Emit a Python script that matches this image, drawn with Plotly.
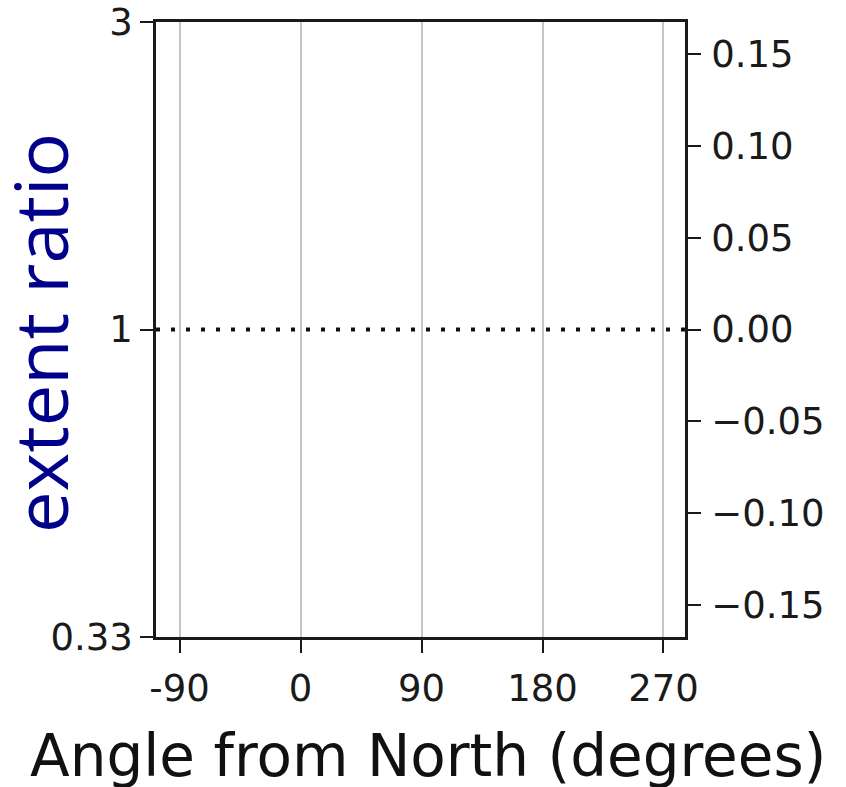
import math
import plotly.graph_objects as go

# Axis ticks and ranges
angle_ticks = [-90, 0, 90, 180, 270]
angle_ticklabels = ["-90", "0", "90", "180", "270"]
angle_range = [-107.5, 286.0]

ratio_ticks = [1 / 3, 1, 3]
ratio_ticklabels = ["0.33", "1", "3"]
ratio_range = [1 / 3, 3]

log_ticks = [-0.15, -0.10, -0.05, 0.0, 0.05, 0.10, 0.15]
log_ticklabels = ["\u22120.15", "\u22120.10", "\u22120.05", "0.00", "0.05", "0.10", "0.15"]
log_range = [-0.1676, 0.1676]

reference_ratio = 1.0

W, H = 846, 787
ML, MR, MT, MB = 156, 161, 22, 150
plot_w = W - ML - MR
plot_h = H - MT - MB

tick_font = dict(family="DejaVu Sans", size=37, color="#1a1a1a")
axis_color = "#1a1a1a"

fig = go.Figure()

# empty traces so both y axes are drawn
fig.add_trace(go.Scatter(x=[None], y=[None], yaxis="y", showlegend=False, hoverinfo="skip"))
fig.add_trace(go.Scatter(x=[None], y=[None], yaxis="y2", showlegend=False, hoverinfo="skip"))

# dotted reference line at ratio 1
fig.add_shape(type="line", xref="x domain", x0=0, x1=1, yref="y",
              y0=reference_ratio, y1=reference_ratio,
              line=dict(color="#111111", width=4, dash="4px,11px"))

fig.update_layout(
    width=W, height=H,
    margin=dict(l=ML, r=MR, t=MT, b=MB, autoexpand=False),
    paper_bgcolor="white", plot_bgcolor="white",
    showlegend=False,
    xaxis=dict(
        range=angle_range, tickvals=angle_ticks, ticktext=angle_ticklabels,
        showgrid=True, gridcolor="#c6c6c6", gridwidth=2,
        zeroline=False, showline=True, linecolor=axis_color, linewidth=2.5,
        mirror=True, ticks="outside", ticklen=13, tickwidth=2, tickcolor=axis_color,
        tickfont=tick_font, ticklabelstandoff=4, automargin=False,
    ),
    yaxis=dict(
        type="log", range=[math.log10(v) for v in ratio_range],
        tickvals=ratio_ticks, ticktext=ratio_ticklabels,
        showgrid=False, zeroline=False, showline=True, linecolor=axis_color,
        linewidth=2.5, ticks="outside", ticklen=13, tickwidth=2, tickcolor=axis_color,
        tickfont=tick_font, automargin=False,
    ),
    yaxis2=dict(
        overlaying="y", side="right", range=log_range,
        tickvals=log_ticks, ticktext=log_ticklabels,
        showgrid=False, zeroline=False, showline=True, linecolor=axis_color,
        linewidth=2.5, ticks="outside", ticklen=13, tickwidth=2, tickcolor=axis_color,
        tickfont=tick_font, ticklabelstandoff=3, automargin=False,
    ),
)

# axis titles
fig.add_annotation(
    text="extent ratio", xref="paper", yref="paper",
    x=(40 - ML) / plot_w, y=(H - MB - 333) / plot_h,
    xanchor="center", yanchor="middle", textangle=-90, showarrow=False,
    font=dict(family="Open Sans", size=74, color="#00008b"),
)
fig.add_annotation(
    text="Angle from North (degrees)", xref="paper", yref="paper",
    x=(428 - ML) / plot_w, y=(H - MB - 756) / plot_h,
    xanchor="center", yanchor="middle", showarrow=False,
    font=dict(family="DejaVu Sans", size=58, color="#111111"),
)

fig.write_html("out.html")
